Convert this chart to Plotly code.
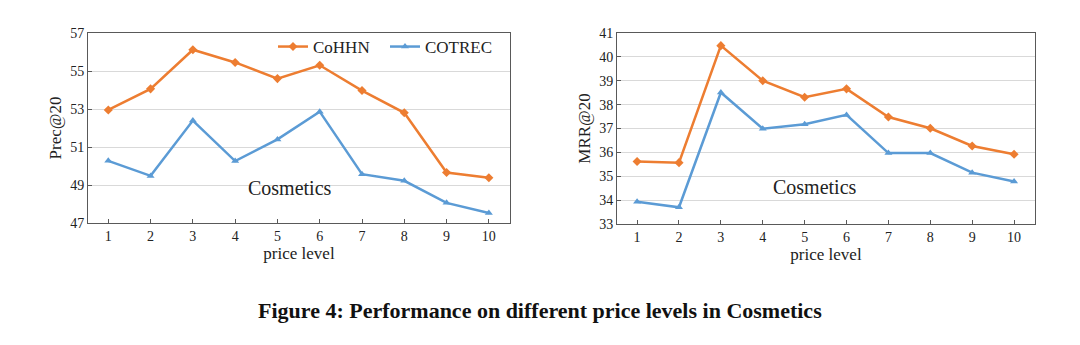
import plotly.graph_objects as go

price_levels = [1, 2, 3, 4, 5, 6, 7, 8, 9, 10]
prec_cohhn = [52.95, 54.06, 56.12, 55.45, 54.6, 55.3, 53.97, 52.8, 49.66, 49.38]
prec_cotrec = [50.27, 49.48, 52.39, 50.26, 51.4, 52.86, 49.57, 49.22, 48.06, 47.53]
mrr_cohhn = [35.62, 35.57, 40.47, 39.0, 38.31, 38.66, 37.48, 37.01, 36.27, 35.92]
mrr_cotrec = [33.93, 33.7, 38.51, 36.99, 37.18, 37.57, 35.97, 35.97, 35.15, 34.78]
prec_ticks = [47, 49, 51, 53, 55, 57]
mrr_ticks = [33, 34, 35, 36, 37, 38, 39, 40, 41]

ORANGE = "#ED7D31"
BLUE = "#5B9BD5"
FONT = "Liberation Serif"
H = 345.0
W = 1080.0

fig = go.Figure()
for xa, ya, a, b, show in [("x", "y", prec_cohhn, prec_cotrec, True),
                           ("x2", "y2", mrr_cohhn, mrr_cotrec, False)]:
    fig.add_trace(go.Scatter(x=price_levels, y=a, mode="lines+markers", name="CoHHN",
                             line=dict(color=ORANGE, width=2.5),
                             marker=dict(symbol="diamond", size=7, color=ORANGE),
                             xaxis=xa, yaxis=ya, showlegend=show))
    fig.add_trace(go.Scatter(x=price_levels, y=b, mode="lines+markers", name="COTREC",
                             line=dict(color=BLUE, width=2.5),
                             marker=dict(symbol="triangle-up", size=7, color=BLUE),
                             xaxis=xa, yaxis=ya, showlegend=show))

axis_common = dict(showline=True, mirror=True, linecolor="#595959", linewidth=1,
                   tickfont=dict(family=FONT, size=14, color="#222"), zeroline=False,
                   automargin=False, ticks="inside", ticklen=4, tickcolor="#595959")
xaxis_common = dict(axis_common, range=[0.52, 10.5], tickmode="array", tickvals=price_levels,
                    showgrid=False,
                    title=dict(text="price level", font=dict(family=FONT, size=17, color="#222"),
                               standoff=4))

fig.update_layout(
    width=1080, height=345,
    margin=dict(l=0, r=0, t=0, b=0, autoexpand=False),
    paper_bgcolor="white", plot_bgcolor="white",
    font=dict(family=FONT, color="#222"),
    xaxis=dict(xaxis_common, domain=[88/W, 510/W], anchor="y"),
    yaxis=dict(axis_common, domain=[1-223/H, 1-33/H], range=[47, 57], tickvals=prec_ticks,
               showgrid=True, gridcolor="#D9D9D9", anchor="x",
               title=dict(text="Prec@20", font=dict(family=FONT, size=17, color="#222"), standoff=4)),
    xaxis2=dict(xaxis_common, domain=[617/W, 1035/W], anchor="y2"),
    yaxis2=dict(axis_common, domain=[1-224/H, 1-33/H], range=[33, 41], tickvals=mrr_ticks,
                showgrid=True, gridcolor="#D9D9D9", anchor="x2",
                title=dict(text="MRR@20", font=dict(family=FONT, size=17, color="#222"), standoff=4)),
    legend=dict(orientation="h", x=273/W, y=1-47/H, xanchor="left", yanchor="middle",
                bgcolor="rgba(0,0,0,0)", font=dict(family=FONT, size=17, color="#222"),
                itemwidth=30, tracegroupgap=0, entrywidth=67, entrywidthmode="pixels"),
    annotations=[
        dict(text="Cosmetics", x=5.3, y=48.85, xref="x", yref="y", showarrow=False,
             font=dict(family=FONT, size=20, color="#222")),
        dict(text="Cosmetics", x=5.25, y=34.55, xref="x2", yref="y2", showarrow=False,
             font=dict(family=FONT, size=20, color="#222")),
        dict(text="<b>Figure 4: Performance on different price levels in Cosmetics</b>",
             x=540/W, y=1-310/H, xref="paper", yref="paper", showarrow=False,
             xanchor="center", yanchor="middle",
             font=dict(family=FONT, size=22, color="#111")),
    ],
)

fig.write_html("out.html", config={"displayModeBar": False},
               post_script="document.body.style.margin='0px';document.body.style.overflow='hidden';")
